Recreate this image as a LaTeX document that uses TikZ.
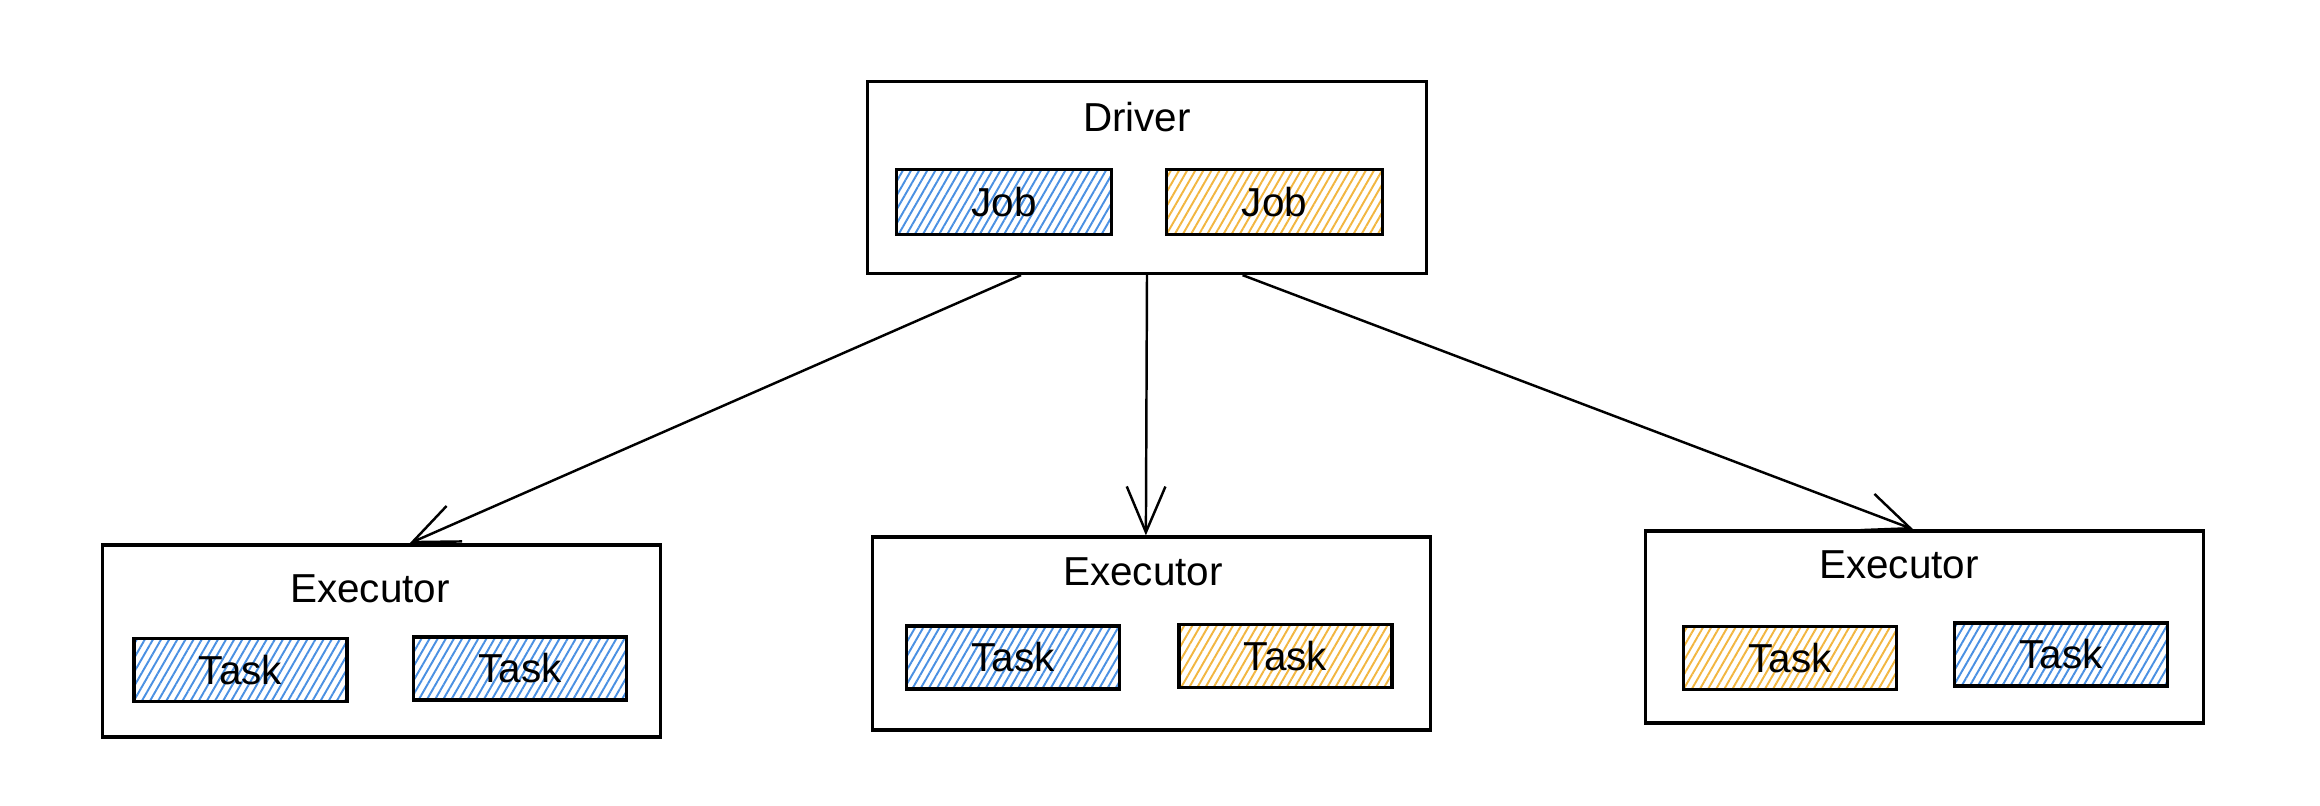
\documentclass[tikz,border=0pt]{standalone}
\usepackage{fontspec}
\setmainfont{Liberation Sans}
\usetikzlibrary{calc,arrows.meta,patterns.meta}

\definecolor{jobblue}{HTML}{4A90E2}
\definecolor{joborange}{HTML}{F2B640}

\begin{document}
\begin{tikzpicture}
    [x=0.01cm, y=-0.01cm,
    every node/.style ={font=\fontsize{11.5}{13}\selectfont, inner sep=0pt},
    outerbox/.style={draw, line width=0.9pt, minimum width=5.58cm, minimum height=1.92cm},
    title/.style={text=black},
    bluebox/.style={draw, line width=0.9pt, minimum width=2.13cm, minimum height=0.63cm,
        pattern={Lines[angle=60,distance=2pt,line width=0.55pt]}, pattern color=jobblue},
    orangebox/.style={draw, line width=0.9pt, minimum width=2.13cm, minimum height=0.63cm,
        pattern={Lines[angle=60,distance=2pt,line width=0.55pt]}, pattern color=joborange},
    sendarrow/.style={draw, line width=0.7pt, -{Straight Barb[length=13pt,width=11pt,line width=0.7pt]}}
    ]
    \useasboundingbox (0,0) rectangle (2320,806);

    % driver
    \node (driver) [outerbox, minimum width=5.59cm] at (1147,177.5) {};
    \node (drivertitle) [title] at (1137,117) {Driver};
    \node (jobblue) [bluebox, minimum width=2.15cm, minimum height=0.65cm] at (1004,202) {Job};
    \node (joborange) [orangebox, minimum width=2.16cm, minimum height=0.65cm] at (1274.5,202) {Job};

    % executors
    \node (exec1) [outerbox] at (381.5,641) {};
    \node (exec1title) [title] at (370,589) {Executor};
    \node (exec1taska) [bluebox] at (240.5,670) {Task};
    \node (exec1taskb) [bluebox] at (520,668.5) {Task};

    \node (exec2) [outerbox, minimum height=1.93cm] at (1151.5,633.5) {};
    \node (exec2title) [title] at (1143,572) {Executor};
    \node (exec2taska) [bluebox] at (1013,657.5) {Task};
    \node (exec2taskb) [orangebox] at (1285.5,656) {Task};

    \node (exec3) [outerbox] at (1924.5,627) {};
    \node (exec3title) [title] at (1899,565) {Executor};
    \node (exec3taska) [orangebox] at (1790,658) {Task};
    \node (exec3taskb) [bluebox] at (2061,654.5) {Task};

    % arrows
    \draw [sendarrow] ($(driver.south west)!0.276!(driver.south east)$) -- ($(exec1.north west)!0.55!(exec1.north east)$);
    \draw [sendarrow] ($(driver.south west)!0.5!(driver.south east)$) -- ($(exec2.north west)!0.49!(exec2.north east)$);
    \draw [sendarrow] ($(driver.south west)!0.67!(driver.south east)$) -- ($(exec3.north west)!0.48!(exec3.north east)$);
\end{tikzpicture}
\end{document}
